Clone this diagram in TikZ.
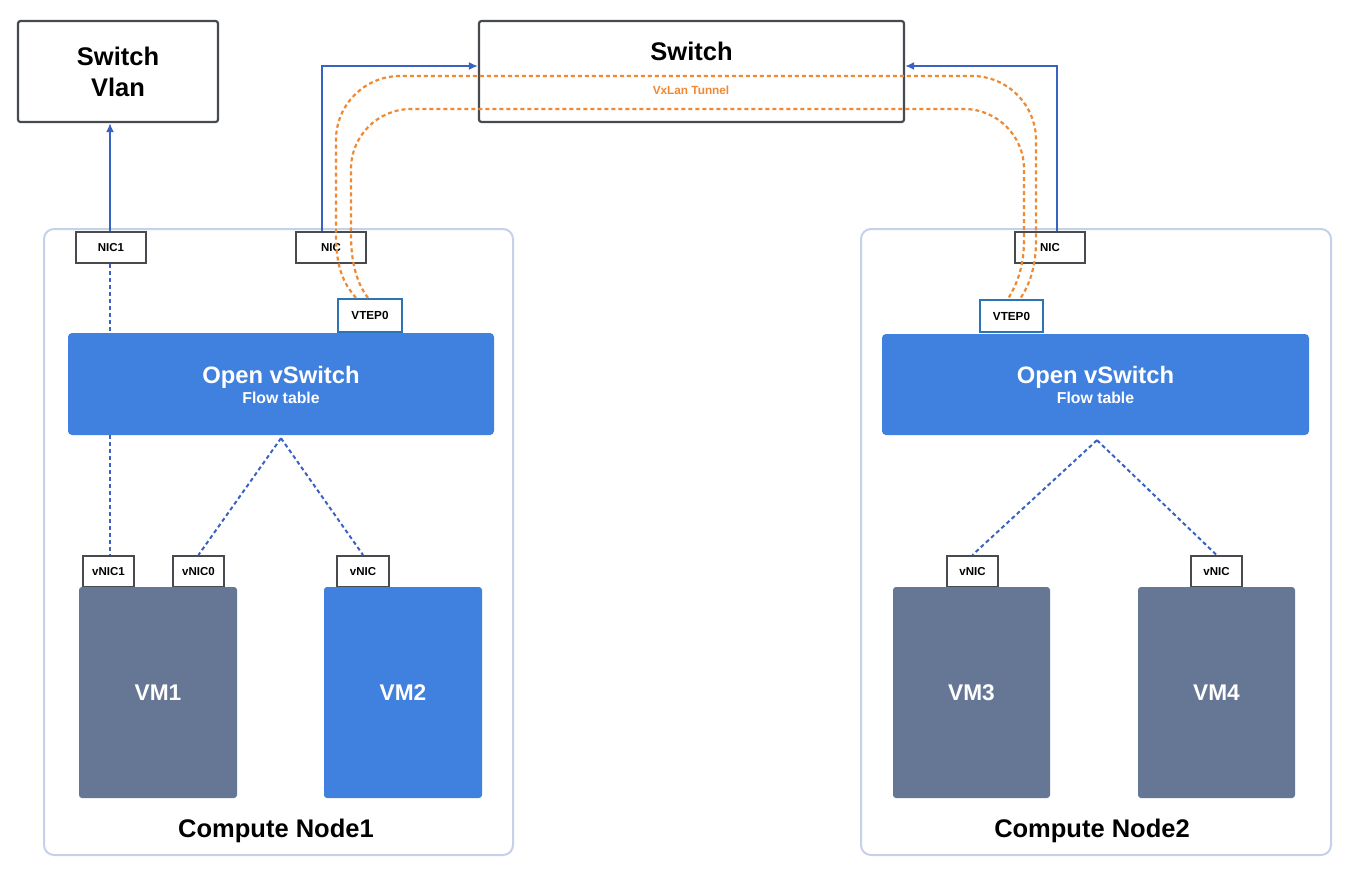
\documentclass[tikz,border=0pt]{standalone}
\usepackage{fontspec}
\setmainfont{Liberation Sans}
\usetikzlibrary{arrows.meta}
\definecolor{boxline}{HTML}{474B50}
\definecolor{contline}{HTML}{C5D0EA}
\definecolor{ovsblue}{HTML}{4080DF}
\definecolor{vmslate}{HTML}{667796}
\definecolor{vtepline}{HTML}{2C74B3}
\definecolor{connblue}{HTML}{3A62C3}
\definecolor{tunorange}{HTML}{EE8A34}
\newcommand\myfs[2]{\fontsize{#1}{#2}\selectfont}
\begin{document}
\begin{tikzpicture}[x=1pt,y=-1pt,
  every node/.style={inner sep=0pt},
  box/.style={draw=boxline, line width=2.2pt, fill=white, rounded corners=2.5pt},
  cont/.style={draw=contline, line width=2pt, rounded corners=10pt},
  port/.style={draw=boxline, line width=2.2pt, fill=white, font=\bfseries\myfs{11.5}{13}},
  vteport/.style={draw=vtepline, line width=2.2pt, fill=white, font=\bfseries\myfs{11.7}{13}},
  ovs/.style={fill=ovsblue, rounded corners=4pt},
  vmslatebox/.style={fill=vmslate, rounded corners=3pt, text=white, font=\bfseries\myfs{22.7}{26}},
  vmbluebox/.style={fill=ovsblue, rounded corners=3pt, text=white, font=\bfseries\myfs{22.7}{26}},
  bigtext/.style={font=\bfseries\myfs{25.5}{31}},
  ovstitle/.style={text=white, font=\bfseries\myfs{23.8}{27}, anchor=base},
  ovssub/.style={text=white, font=\bfseries\myfs{15.8}{18}, anchor=base},
  uplink/.style={draw=connblue, line width=2pt, -{Latex[length=9pt,width=8pt]}},
  vlink/.style={draw=connblue, line width=2pt, dash pattern=on 4pt off 3pt},
  tunnel/.style={draw=tunorange, line width=2.2pt, dash pattern=on 4pt off 3pt}
]
\useasboundingbox[fill=white] (0,0) rectangle (1350,871);

% containers
\node[cont, minimum width=469pt, minimum height=626pt] (c1) at (278.5,542) {};
\node[cont, minimum width=470pt, minimum height=626pt] (c2) at (1096,542) {};
\node[bigtext, anchor=base] (c1t) at (276,837.3) {Compute Node1};
\node[bigtext, anchor=base] (c2t) at (1092,837.3) {Compute Node2};

% switches
\node[box, minimum width=200pt, minimum height=101pt, align=center, bigtext] (swv) at (118,71.5) {Switch\\Vlan};
\node[box, minimum width=425pt, minimum height=101pt] (sw) at (691.5,71.5) {};
\node[bigtext, anchor=base] (swt) at (691.5,60) {Switch};
\node[text=tunorange, font=\bfseries\myfs{11.8}{13}, anchor=base] (vx) at (691,94) {VxLan Tunnel};

% node 1
\node[port, minimum width=70pt, minimum height=31pt] (nic1) at (111,247.5) {NIC1};
\node[port, minimum width=70pt, minimum height=31pt] (nica) at (331,247.5) {NIC};
\node[vteport, minimum width=64pt, minimum height=33pt] (vtepa) at (370,315.5) {VTEP0};
\node[ovs, minimum width=426pt, minimum height=102pt] (ovs1) at (281,384) {};
\node[ovstitle] (ovs1t) at (281,383) {Open vSwitch};
\node[ovssub] (ovs1s) at (281,403) {Flow table};
\node[port, minimum width=51pt, minimum height=31pt] (vnic1) at (108.5,571.5) {vNIC1};
\node[port, minimum width=51pt, minimum height=31pt] (vnic0) at (198.5,571.5) {vNIC0};
\node[port, minimum width=52pt, minimum height=31pt] (vnic2) at (363,571.5) {vNIC};
\node[vmslatebox, minimum width=158pt, minimum height=211pt] (vm1) at (158,692.5) {VM1};
\node[vmbluebox, minimum width=158pt, minimum height=211pt] (vm2) at (403,692.5) {VM2};

% node 2
\node[port, minimum width=70pt, minimum height=31pt] (nicb) at (1050,247.5) {NIC};
\node[vteport, minimum width=63pt, minimum height=32pt] (vtepb) at (1011.5,316) {VTEP0};
\node[ovs, minimum width=427pt, minimum height=101pt] (ovs2) at (1095.5,384.5) {};
\node[ovstitle] (ovs2t) at (1095.5,383.3) {Open vSwitch};
\node[ovssub] (ovs2s) at (1095.5,403.3) {Flow table};
\node[port, minimum width=51pt, minimum height=31pt] (vnic3) at (972.5,571.5) {vNIC};
\node[port, minimum width=51pt, minimum height=31pt] (vnic4) at (1216.5,571.5) {vNIC};
\node[vmslatebox, minimum width=157pt, minimum height=211pt] (vm3) at (971.5,692.5) {VM3};
\node[vmslatebox, minimum width=157pt, minimum height=211pt] (vm4) at (1216.5,692.5) {VM4};

% uplinks
\draw[uplink] ([xshift=-1pt]nic1.north) -- ([xshift=-1pt]nic1.north |- swv.south);
\draw[uplink] ([xshift=-9.3pt]nica.north) |- ([yshift=5.5pt]sw.west);
\draw[uplink] ([xshift=6.5pt]nicb.north) |- ([yshift=5.5pt]sw.east);

% virtual links
\draw[vlink] ([xshift=-1pt]nic1.south) -- ([xshift=-1pt]nic1.south |- ovs1.north);
\draw[vlink] ([xshift=-1pt]nic1.south |- ovs1.south) -- ([xshift=-1pt]nic1.south |- vnic1.north);
\draw[vlink] ([yshift=-3pt]ovs1.south) -- (vnic0.north);
\draw[vlink] ([yshift=-3pt]ovs1.south) -- (vnic2.north);
\draw[vlink] ([xshift=1.5pt,yshift=-5pt]ovs2.south) -- (vnic3.north);
\draw[vlink] ([xshift=1.5pt,yshift=-5pt]ovs2.south) -- (vnic4.north);

% tunnel
\draw[tunnel] ([xshift=-14pt]vtepa.north) .. controls (345,285) and (336,270) .. (336,235)
  -- (336,140) .. controls (336,104.7) and (364.7,76) .. (400,76)
  -- (972,76) .. controls (1007.3,76) and (1036,104.7) .. (1036,140)
  -- (1036,240) .. controls (1036,270) and (1028,287) .. ([xshift=8.5pt]vtepb.north);
\draw[tunnel] ([xshift=-2pt]vtepa.north) .. controls (358,285) and (351,265) .. (351,235)
  -- (351,169) .. controls (351,135.9) and (377.9,109) .. (411,109)
  -- (964,109) .. controls (997.1,109) and (1024,135.9) .. (1024,169)
  -- (1024,240) .. controls (1024,270) and (1015,287) .. ([xshift=-3.5pt]vtepb.north);
\end{tikzpicture}
\end{document}
